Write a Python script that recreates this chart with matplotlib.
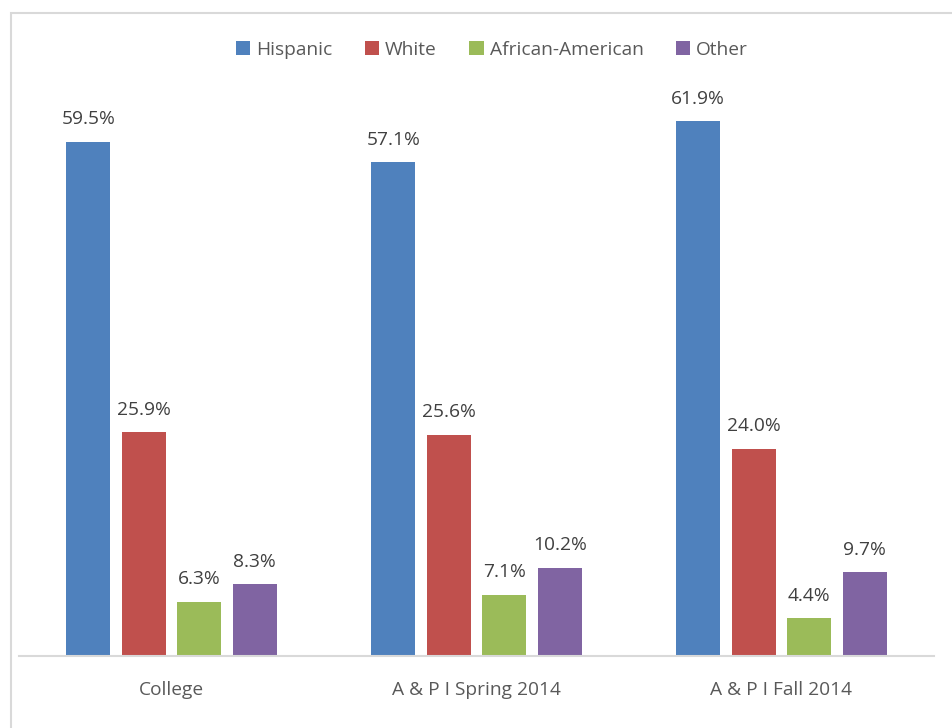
import matplotlib
matplotlib.use("Agg")
import matplotlib.pyplot as plt
from matplotlib.patches import Rectangle
import numpy as np

categories = ["College", "A & P I Spring 2014", "A & P I Fall 2014"]
series_names = ["Hispanic", "White", "African-American", "Other"]
hispanic = [59.5, 57.1, 61.9]
white = [25.9, 25.6, 24.0]
african_american = [6.3, 7.1, 4.4]
other = [8.3, 10.2, 9.7]
colors = ["#4F81BD", "#C0504D", "#9BBB59", "#8064A2"]

plt.rcParams['font.family'] = ['Open Sans', 'DejaVu Sans']
W, H = 952, 728
fig = plt.figure(figsize=(W/100, H/100), dpi=100)
ax = fig.add_axes([19/W, (H-656)/H, (934-19)/W, (656-51)/H])

# chart border
fig.patches.append(Rectangle((11/W, -0.1), 1.2, (H-13)/H + 0.1, transform=fig.transFigure,
                             fill=False, edgecolor="#D9D9D9", linewidth=1.5))

x = np.arange(len(categories))
step = 0.182
width = 0.144
data = [hispanic, white, african_american, other]
handles = []
for i, (vals, c, name) in enumerate(zip(data, colors, series_names)):
    pos = x + (i - 1.5) * step
    b = ax.bar(pos, vals, width=width, color=c, label=name)
    handles.append(b)
    for p, v in zip(pos, vals):
        ax.text(p, v + 1.55, f"{v:.1f}%", ha="center", va="bottom",
                fontsize=13.8, color="#404040")

ax.set_xlim(-0.5, 2.5)
ax.set_ylim(0, 70)
ax.set_yticks([])
ax.set_xticks(x)
ax.set_xticklabels(categories, fontsize=13.8, color="#595959")
ax.tick_params(axis="x", length=0, pad=18)
for s in ["top", "right", "left"]:
    ax.spines[s].set_visible(False)
ax.spines["bottom"].set_color("#D9D9D9")
ax.spines["bottom"].set_linewidth(1.5)

fig.legend(handles=handles, labels=series_names, loc="center",
           bbox_to_anchor=(492/W, (H-50)/H), ncol=4, frameon=False,
           fontsize=13.8, labelcolor="#595959", handlelength=0.75, handleheight=0.75,
           handletextpad=0.3, columnspacing=1.7)

fig.savefig("out.png", dpi=100)
